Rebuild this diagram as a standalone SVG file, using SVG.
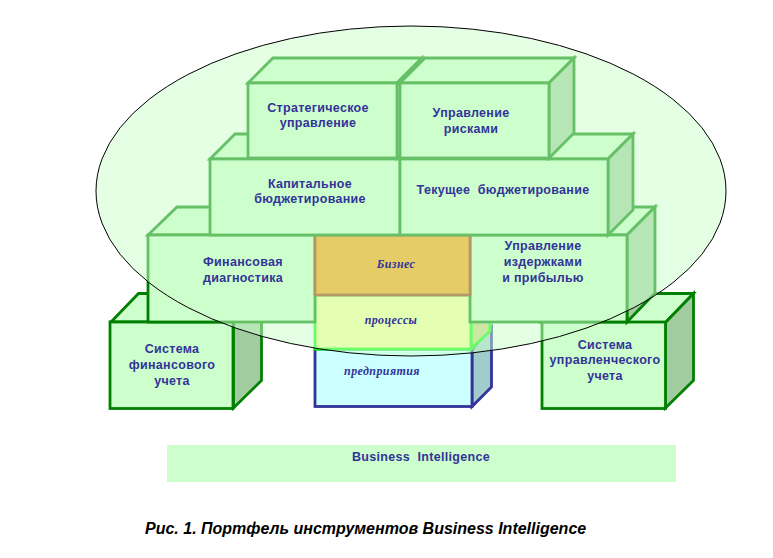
<svg xmlns="http://www.w3.org/2000/svg" width="773" height="558" viewBox="0 0 773 558">
<style>
.g .f{fill:#ccffcc;stroke:#008000;stroke-width:2.800;stroke-linejoin:miter}
.g .s{fill:#a0cca0;stroke:#008000;stroke-width:2.800}
.l{font-family:"Liberation Sans",Arial,sans-serif;font-weight:bold;font-size:12.5px;fill:#333399;text-anchor:middle;letter-spacing:.3px}
.i{font-family:"Liberation Serif","Times New Roman",serif;font-weight:bold;font-style:italic;font-size:12px;fill:#333399;text-anchor:middle;letter-spacing:.4px}
</style>
<rect width="773" height="558" fill="#fff"/>
<g id="node-bi"><rect x="167" y="445" width="509" height="37" fill="#ccffcc"/></g>
<g id="node-sys-fin" class="g">
<path class="f" d="M110.500 322.500L138.500 293.500H262V322H110.500Z"/>
<path class="s" d="M233.500 322.500L261.500 293.500V380.500L233.500 408Z"/>
<rect class="f" x="110" y="322" width="123" height="86.500"/>
</g>
<g id="node-sys-mgmt" class="g">
<path class="f" d="M542 322.500L570 293.500H693.500L665.500 322.500Z"/>
<path class="s" d="M665.500 322.500L693.500 293.500V380.500L665.500 408Z"/>
<rect class="f" x="542" y="322" width="123.500" height="86.500"/>
</g>
<g id="node-enterprise">
<path d="M472 349L491.500 327V387L472 406.500Z" fill="#a0cccc" stroke="#333399" stroke-width="2.800"/>
<rect x="315" y="349" width="157" height="57.500" fill="#ccffff" stroke="#333399" stroke-width="2.800"/>
</g>
<g id="node-processes">
<path d="M471 349L490 331V295H471Z" fill="#cccc7a" stroke="#00ff00" stroke-width="2.800"/>
<rect x="315" y="295" width="156" height="54" fill="#ffff99" stroke="#00ff00" stroke-width="2.800"/>
</g>
<g id="node-fin-diag" class="g">
<path class="f" d="M148 235L177 207H240V235Z"/>
<rect class="f" x="148" y="235" width="167" height="87"/>
</g>
<g id="node-cost" class="g">
<path class="f" d="M470 235L500 207H655L627 235Z"/>
<path class="s" d="M627 235L655 207V293L627 322Z"/>
<rect class="f" x="470" y="235" width="157" height="87"/>
</g>
<g id="node-business">
<rect x="315" y="235" width="155" height="60" fill="#ff9900" stroke="#993300" stroke-width="2.800"/>
</g>
<g id="node-capital" class="g">
<path class="f" d="M210 159L235 134H270V159Z"/>
<rect class="f" x="210" y="159" width="190" height="76"/>
</g>
<g id="node-current" class="g">
<path class="f" d="M540 159L565 134H633L608 159Z"/>
<path class="s" d="M608 159L633 134V210L608 235Z"/>
<rect class="f" x="400" y="159" width="208" height="76"/>
</g>
<g id="node-strategic" class="g">
<path class="f" d="M248 83L273 58H422L397 83Z"/>
<path class="s" d="M397 83L422 58V133L397 158Z"/>
<rect class="f" x="248" y="83" width="149" height="75"/>
</g>
<g id="node-risks" class="g">
<path class="f" d="M400 83L425 58H574L549 83Z"/>
<path class="s" d="M549 83L574 58V133L549 158Z"/>
<rect class="f" x="400" y="83" width="149" height="75"/>
</g>
<g id="connectors"></g>
<ellipse id="oval" cx="411" cy="191" rx="315" ry="165" fill="#ccffcc" fill-opacity=".5" stroke="#000" stroke-width="1"/>
<g id="labels">
<text class="l"><tspan x="318" y="112">Стратегическое</tspan><tspan x="318" y="127">управление</tspan></text>
<text class="l"><tspan x="471" y="117">Управление</tspan><tspan x="471" y="133">рисками</tspan></text>
<text class="l"><tspan x="310" y="188">Капитальное</tspan><tspan x="310" y="203">бюджетирование</tspan></text>
<text class="l" x="503" y="194" xml:space="preserve">Текущее  бюджетирование</text>
<text class="l"><tspan x="243" y="266">Финансовая</tspan><tspan x="243" y="282">диагностика</tspan></text>
<text class="l"><tspan x="543" y="250">Управление</tspan><tspan x="543" y="266">издержками</tspan><tspan x="543" y="282">и прибылью</tspan></text>
<text class="i" x="396" y="268">Бизнес</text>
<text class="i" x="391" y="324">процессы</text>
<text class="i" x="382" y="375">предприятия</text>
<text class="l"><tspan x="172" y="353">Система</tspan><tspan x="172" y="369">финансового</tspan><tspan x="172" y="385">учета</tspan></text>
<text class="l"><tspan x="605" y="349">Система</tspan><tspan x="605" y="364">управленческого</tspan><tspan x="605" y="380">учета</tspan></text>
<text class="l" x="421" y="461" xml:space="preserve">Business  Intelligence</text>
<text x="145" y="534" font-family="'Liberation Sans',Arial,sans-serif" font-weight="bold" font-style="italic" font-size="16px" fill="#000">Рис. 1. Портфель инструментов Business Intelligence</text>
</g>
</svg>
